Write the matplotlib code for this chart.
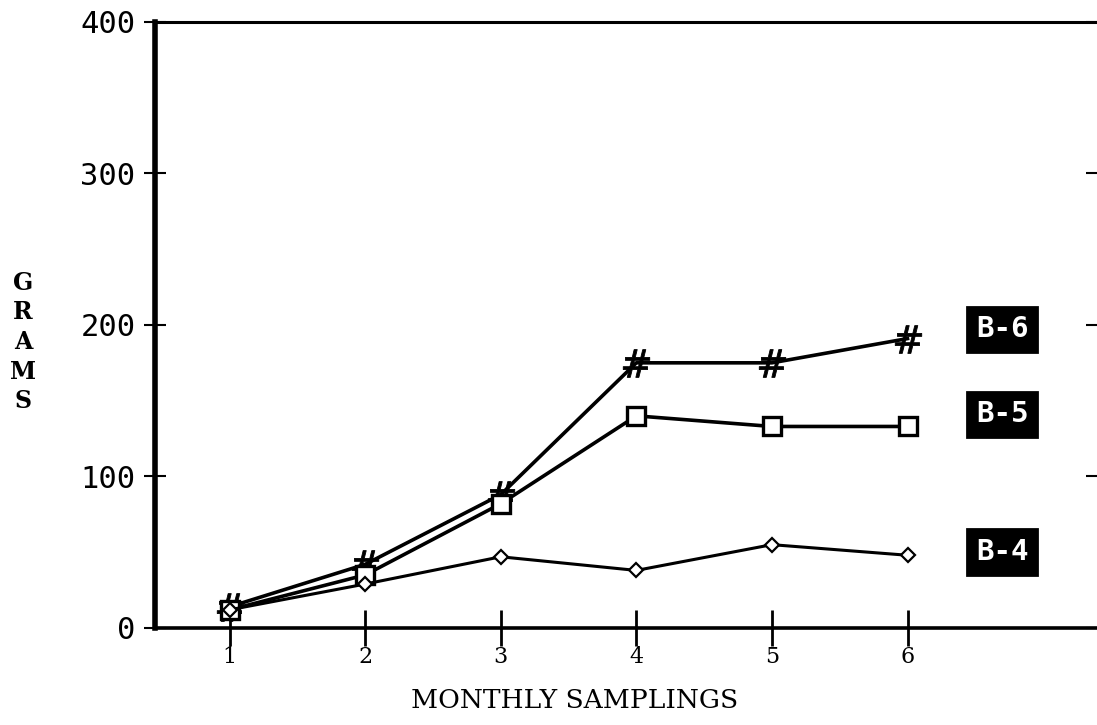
import numpy as np
import matplotlib.pyplot as plt

# monthly samplings and grams per series
months = [1, 2, 3, 4, 5, 6]
b6 = [14, 42, 88, 175, 175, 191]
b5 = [12, 35, 82, 140, 133, 133]
b4 = [12, 29, 47, 38, 55, 48]
labels = ['B-6', 'B-5', 'B-4']

fig = plt.figure(figsize=(10.97, 7.25), dpi=100)
ax = fig.add_axes([0.1413, 0.1338, 0.859, 0.836])

ax.plot(months, b6, color='black', lw=2.6, marker='$\\#$', ms=20, mew=0.6)
ax.plot(months, b5, color='black', lw=2.6, marker='s', ms=13, mfc='white', mec='black', mew=2.4)
ax.plot(months, b4, color='black', lw=2.2, marker='D', ms=7, mfc='white', mec='black', mew=1.6)

# inverted series labels on the right
for lab, yv in zip(labels, [197, 141, 50]):
    ax.text(6.70, yv, lab, ha='center', va='center', color='white',
            family='DejaVu Sans Mono', fontsize=21, fontweight='bold',
            bbox=dict(boxstyle='square,pad=0.3', fc='black', ec='black', lw=2))

ax.set_xlim(0.45, 7.40)
ax.set_ylim(0, 400)

ax.set_xticks(months)
ax.set_xticklabels([str(m) for m in months], family='DejaVu Serif', fontsize=16)
ax.set_yticks([0, 100, 200, 300, 400])
ax.set_yticklabels(['0', '100', '200', '300', '400'], family='DejaVu Sans Mono', fontsize=22)

ax.tick_params(axis='x', direction='inout', length=26, width=2, pad=0)
ax.tick_params(axis='y', direction='inout', length=16, width=1.5, pad=6, right=True)

ax.spines['left'].set_linewidth(4)
ax.spines['bottom'].set_linewidth(2.6)
ax.spines['top'].set_linewidth(2.2)
ax.spines['right'].set_visible(False)

fig.text(575 / 1097, 1 - 700 / 725, 'MONTHLY SAMPLINGS', family='DejaVu Serif',
         fontsize=19, ha='center', va='center')
fig.text(23 / 1097, 1 - 342 / 725, 'G\nR\nA\nM\nS', family='DejaVu Serif', fontsize=17,
         fontweight='bold', ha='center', va='center', linespacing=1.3)

fig.savefig('out.png', dpi=100)
